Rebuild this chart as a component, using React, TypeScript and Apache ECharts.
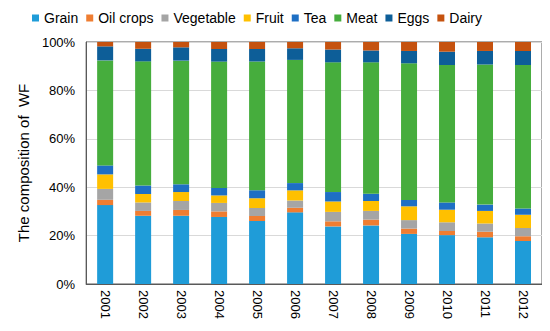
import React, { useEffect, useRef } from "react";
import * as echarts from "echarts";

const years = ["2001","2002","2003","2004","2005","2006","2007","2008","2009","2010","2011","2012"];
const grain = [32.6, 28.2, 28.2, 27.7, 26.0, 29.6, 23.8, 24.2, 20.7, 20.2, 19.3, 17.8];
const oilCrops = [2.2, 2.0, 2.4, 2.3, 2.1, 1.9, 2.1, 2.4, 2.2, 1.7, 2.3, 1.9];
const vegetable = [4.5, 3.5, 3.7, 3.5, 3.3, 3.0, 3.9, 3.6, 3.5, 3.6, 3.4, 3.4];
const fruit = [6.0, 3.5, 3.7, 3.1, 4.0, 4.2, 4.3, 4.1, 5.7, 5.2, 5.2, 5.5];
const tea = [3.7, 3.5, 3.2, 3.1, 3.3, 3.0, 3.9, 3.0, 2.6, 3.0, 2.6, 2.6];
const meat = [43.4, 51.3, 51.1, 52.2, 53.2, 50.9, 53.6, 54.3, 56.5, 56.8, 57.9, 59.3];
const eggs = [5.8, 5.2, 5.5, 5.2, 5.2, 4.8, 5.3, 4.9, 5.1, 5.5, 5.6, 5.8];
const dairy = [1.8, 2.8, 2.2, 2.9, 2.9, 2.6, 3.1, 3.5, 3.7, 4.0, 3.7, 3.7];

const seriesNames = ["Grain", "Oil crops", "Vegetable", "Fruit", "Tea", "Meat", "Eggs", "Dairy"];
const seriesData = [grain, oilCrops, vegetable, fruit, tea, meat, eggs, dairy];
const colors = ["#1f9cd8", "#ef7d31", "#a5a5a5", "#ffc000", "#1e6fc4", "#46ad3d", "#0d5e98", "#c5520f"];
const yTitle = "The composition of  WF";

export default function App() {
  const ref = useRef<HTMLDivElement>(null);
  useEffect(() => {
    if (!ref.current) return;
    const chart = echarts.init(ref.current, null, { renderer: "svg" });
    chart.setOption({
      animation: false,
      color: colors,
      textStyle: { fontFamily: "Liberation Sans, Arial, sans-serif" },
      legend: {
        top: -2,
        left: 19,
        itemWidth: 7,
        itemHeight: 7,
        itemGap: 8,
        icon: "rect",
        textStyle: { fontSize: 14, color: "#000", fontFamily: "Liberation Sans, Arial, sans-serif" },
        data: seriesNames,
      },
      grid: {
        left: 67,
        right: 8,
        top: 34,
        bottom: 47,
        show: true,
        borderColor: "#595959",
        borderWidth: 1,
      },
      xAxis: {
        type: "category",
        data: years,
        axisLine: { lineStyle: { color: "#595959" } },
        axisTick: { show: false },
        axisLabel: { rotate: -90, color: "#000", fontSize: 13, margin: 6 },
      },
      yAxis: {
        type: "value",
        min: 0,
        max: 100,
        interval: 20,
        name: yTitle,
        nameLocation: "middle",
        nameGap: 44,
        nameTextStyle: { fontSize: 15, color: "#000" },
        axisLine: { show: true, lineStyle: { color: "#595959" } },
        axisLabel: { formatter: "{value}%", color: "#000", fontSize: 13, margin: 11 },
        splitLine: { lineStyle: { color: "#d9d9d9" } },
      },
      series: seriesNames.map((name, i) => ({
        name,
        type: "bar",
        stack: "total",
        barWidth: 16,
        data: seriesData[i],
      })),
    });
    return () => chart.dispose();
  }, []);
  return <div ref={ref} style={{ width: 542, height: 323 }} />;
}
